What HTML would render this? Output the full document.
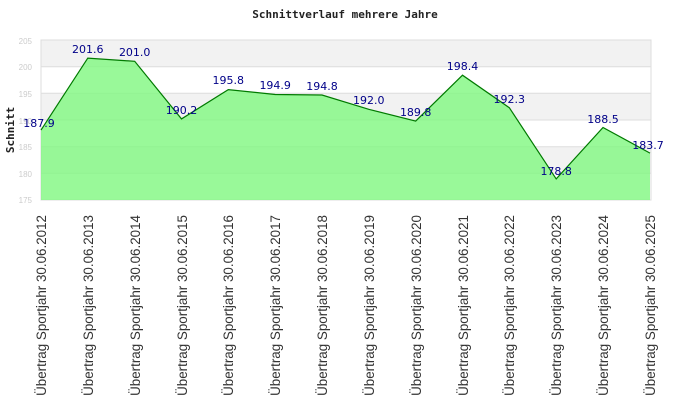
<!DOCTYPE html>
<html><head><meta charset="utf-8"><style>body{margin:0;background:#fff}svg{display:block}</style></head><body>
<svg width="690" height="420" xmlns="http://www.w3.org/2000/svg">
<rect width="690" height="420" fill="#fff"/>
<text x="345" y="18" text-anchor="middle" font-family="DejaVu Sans Mono, Liberation Mono, monospace" font-size="11" font-weight="bold" fill="#222">Schnittverlauf mehrere Jahre</text>
<text transform="translate(14,130) rotate(-90)" text-anchor="middle" font-family="DejaVu Sans Mono, Liberation Mono, monospace" font-size="11" font-weight="bold" fill="#222">Schnitt</text>
<g>
<rect x="41" y="40" width="610" height="26.7" fill="#f2f2f2"/>
<rect x="41" y="93.3" width="610" height="26.7" fill="#f2f2f2"/>
<rect x="41" y="146.7" width="610" height="26.7" fill="#f2f2f2"/>
<g stroke="#ddd" stroke-width="1">
<line x1="41" x2="651" y1="66.7" y2="66.7"/><line x1="41" x2="651" y1="93.3" y2="93.3"/><line x1="41" x2="651" y1="120" y2="120"/><line x1="41" x2="651" y1="146.7" y2="146.7"/><line x1="41" x2="651" y1="173.3" y2="173.3"/>
</g>
<rect x="41" y="40" width="610" height="160" fill="none" stroke="#ddd"/>
</g>
<g font-family="Liberation Sans, sans-serif" font-size="8" fill="#ccc" text-anchor="end">
<text x="32" y="44">205</text><text x="32" y="70">200</text><text x="32" y="97">195</text><text x="32" y="124">190</text><text x="32" y="150">185</text><text x="32" y="177">180</text><text x="32" y="203">175</text>
</g>
<polygon fill="#7ff77f" fill-opacity="0.8" stroke="none" points="41,200 41,130.1 87.8,58.1 134.7,61.3 181.5,118.9 228.3,89.6 275.2,94.5 322,95 368.8,109.3 415.7,121.1 462.5,75.2 509.3,107.7 556.2,178.9 603,127.5 650,153.1 650,200"/>
<polyline fill="none" stroke="#007a00" stroke-width="1.2" points="41,130.1 87.8,58.1 134.7,61.3 181.5,118.9 228.3,89.6 275.2,94.5 322,95 368.8,109.3 415.7,121.1 462.5,75.2 509.3,107.7 556.2,178.9 603,127.5 650,153.1"/>
<g font-family="DejaVu Sans, Liberation Sans, sans-serif" font-size="11" fill="#000088" text-anchor="middle">
<text x="39" y="127">187.9</text><text x="87.8" y="53">201.6</text><text x="134.7" y="56">201.0</text><text x="181.5" y="114">190.2</text><text x="228.3" y="84">195.8</text><text x="275.2" y="89">194.9</text><text x="322" y="90">194.8</text><text x="368.8" y="104">192.0</text><text x="415.7" y="116">189.8</text><text x="462.5" y="70">198.4</text><text x="509.3" y="103">192.3</text><text x="556.2" y="175">178.8</text><text x="603" y="123">188.5</text><text x="648" y="149">183.7</text>
</g>
<g font-family="Liberation Sans, sans-serif" font-size="13.4" fill="#333" text-anchor="end">
<text transform="translate(46,215) rotate(-90)">Übertrag Sportjahr 30.06.2012</text>
<text transform="translate(93,215) rotate(-90)">Übertrag Sportjahr 30.06.2013</text>
<text transform="translate(140,215) rotate(-90)">Übertrag Sportjahr 30.06.2014</text>
<text transform="translate(187,215) rotate(-90)">Übertrag Sportjahr 30.06.2015</text>
<text transform="translate(233,215) rotate(-90)">Übertrag Sportjahr 30.06.2016</text>
<text transform="translate(280,215) rotate(-90)">Übertrag Sportjahr 30.06.2017</text>
<text transform="translate(327,215) rotate(-90)">Übertrag Sportjahr 30.06.2018</text>
<text transform="translate(374,215) rotate(-90)">Übertrag Sportjahr 30.06.2019</text>
<text transform="translate(421,215) rotate(-90)">Übertrag Sportjahr 30.06.2020</text>
<text transform="translate(468,215) rotate(-90)">Übertrag Sportjahr 30.06.2021</text>
<text transform="translate(514,215) rotate(-90)">Übertrag Sportjahr 30.06.2022</text>
<text transform="translate(561,215) rotate(-90)">Übertrag Sportjahr 30.06.2023</text>
<text transform="translate(608,215) rotate(-90)">Übertrag Sportjahr 30.06.2024</text>
<text transform="translate(655,215) rotate(-90)">Übertrag Sportjahr 30.06.2025</text>
</g>
</svg>
</body></html>
